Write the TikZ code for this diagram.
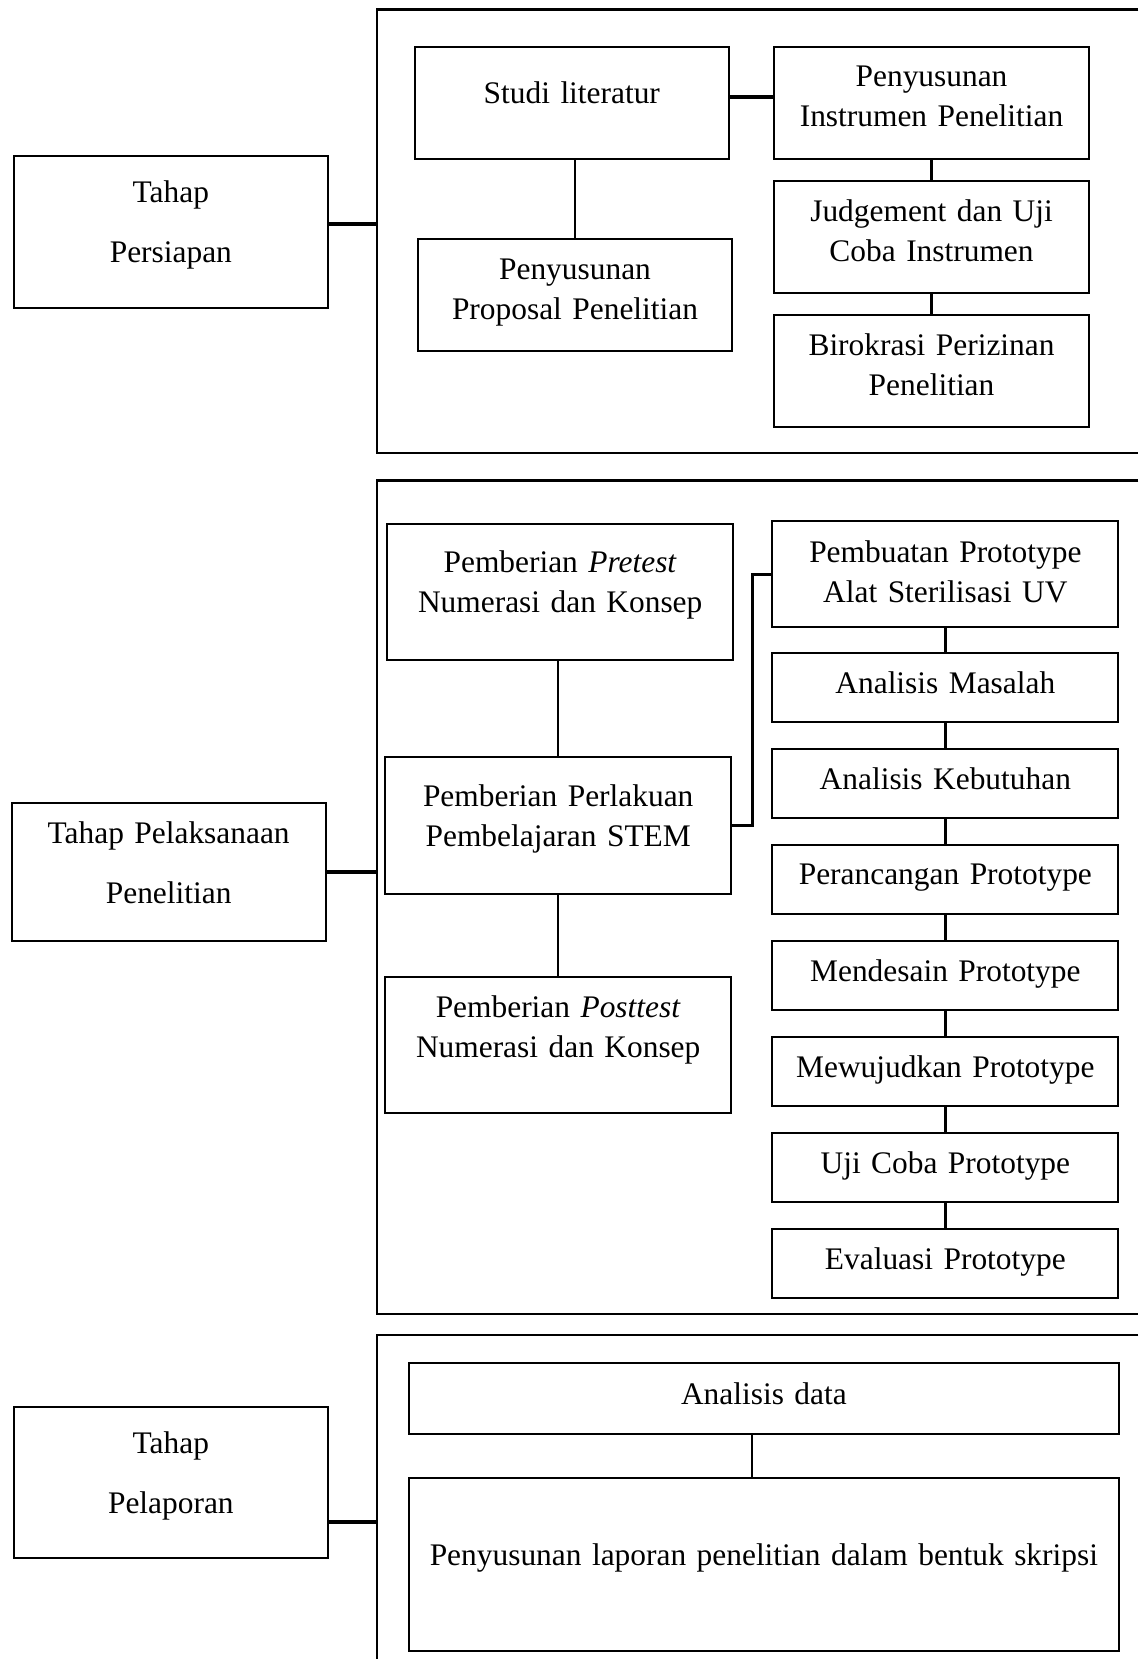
\documentclass[tikz,border=0pt]{standalone}
\usepackage{fontspec}
\setmainfont{Liberation Serif}
\usepackage{tikz}
\usetikzlibrary{positioning}
\tikzset{
  box/.style={
    draw, line width=1pt, inner xsep=0pt, inner ysep=0pt, outer sep=0pt, align=center,
    font=\fontsize{15.7}{20}\selectfont,
    execute at end node={\rule[-#1]{0pt}{0pt}}
  },
  box/.default=10pt,
  phasebox/.style={box, text width=157pt, minimum height=#1},
  prepbox/.style={box=6.3pt, text width=157pt, minimum height=56pt},
  runbox/.style={box=#1, text width=173pt},
  runbox/.default=10pt,
  stepbox/.style={runbox=5pt, minimum height=34.4pt},
  reportbox/.style={box=#1, text width=355pt},
  reportbox/.default=10pt,
  panel/.style={line width=1.2pt},
  link/.style={line width=1.2pt},
  joint/.style={line width=2pt}
}
\begin{document}
\begin{tikzpicture}[x=1pt, y=-1pt]
  \useasboundingbox (0,0) rectangle (569,829.2);

  % Tahap Persiapan
  \coordinate (f1) at (188.3,4.8);
  \draw[panel] (569,4.8) -- (f1) -- (188.3,226.3) -- (569,226.3);
  \node[phasebox=76pt] (persiapan) at (85.4,115.8) {Tahap\\[10pt]Persiapan};
  \node[prepbox, box=10pt] (studi) at (285.8,51.3) {Studi literatur};
  \node[prepbox, right=22.8pt of studi] (instrumen) {Penyusunan\\Instrumen Penelitian};
  \node[prepbox, below=11.1pt of instrumen] (judgement) {Judgement dan Uji\\Coba Instrumen};
  \node[prepbox, below=11.1pt of judgement] (birokrasi) {Birokrasi Perizinan\\Penelitian};
  \node[prepbox, below=40.2pt of studi, xshift=1.6pt] (proposal) {Penyusunan\\Proposal Penelitian};

  \draw[joint] ([yshift=3.7pt]persiapan.east) -- ([yshift=3.7pt]persiapan.east -| f1);
  \draw[joint] ([yshift=3pt]studi.east) -- ([yshift=3pt]studi.east -| instrumen.west);
  \draw[link] (proposal.north |- studi.south) -- (proposal.north);
  \draw[link] (instrumen) -- (judgement);
  \draw[link] (judgement) -- (birokrasi);

  % Tahap Pelaksanaan Penelitian
  \coordinate (f2) at (188.3,240.1);
  \draw[panel] (569,240.1) -- (f2) -- (188.3,656.8) -- (569,656.8);
  \node[phasebox=69pt] (pelaksanaan) at (84.3,436.0) {Tahap Pelaksanaan\\[10pt]Penelitian};
  \node[runbox, minimum height=68pt] (pretest) at (280.0,295.9) {Pemberian \textit{Pretest}\\Numerasi dan Konsep};
  \node[runbox, minimum height=68pt, below=48.7pt of pretest, xshift=-1pt] (perlakuan) {Pemberian Perlakuan\\Pembelajaran STEM};
  \node[runbox=18.4pt, minimum height=68pt, below=41.8pt of perlakuan] (posttest) {Pemberian \textit{Posttest}\\Numerasi dan Konsep};
  \node[runbox=2.6pt, minimum height=53pt] (pembuatan) at (472.5,287.1) {Pembuatan Prototype\\Alat Sterilisasi UV};
  \node[stepbox, below=12.7pt of pembuatan] (masalah) {Analisis Masalah};
  \node[stepbox, below=13.6pt of masalah] (kebutuhan) {Analisis Kebutuhan};
  \node[stepbox, below=13.6pt of kebutuhan] (perancangan) {Perancangan Prototype};
  \node[stepbox, below=13.6pt of perancangan] (mendesain) {Mendesain Prototype};
  \node[stepbox, below=13.6pt of mendesain] (mewujudkan) {Mewujudkan Prototype};
  \node[stepbox, below=13.6pt of mewujudkan] (ujicoba) {Uji Coba Prototype};
  \node[stepbox, below=13.6pt of ujicoba] (evaluasi) {Evaluasi Prototype};

  \draw[joint] (pelaksanaan.east) -- (pelaksanaan.east -| f2);
  \draw[link] (perlakuan.north |- pretest.south) -- (perlakuan.north);
  \draw[link] (perlakuan) -- (posttest);
  \draw[link] (perlakuan.east) -- ++(10.6,0) |- (pembuatan.west);
  \draw[link] (pembuatan) -- (masalah);
  \draw[link] (masalah) -- (kebutuhan);
  \draw[link] (kebutuhan) -- (perancangan);
  \draw[link] (perancangan) -- (mendesain);
  \draw[link] (mendesain) -- (mewujudkan);
  \draw[link] (mewujudkan) -- (ujicoba);
  \draw[link] (ujicoba) -- (evaluasi);

  % Tahap Pelaporan
  \coordinate (f3) at (188.3,667.3);
  \draw[panel] (569,667.3) -- (f3) -- (188.3,829.2);
  \node[phasebox=75.6pt] (pelaporan) at (85.4,741.1) {Tahap\\[10pt]Pelaporan};
  \node[reportbox=5pt, minimum height=35.4pt] (data) at (381.8,698.8) {Analisis data};
  \node[reportbox, minimum height=86.7pt, below=22.2pt of data] (laporan) {Penyusunan laporan penelitian dalam bentuk skripsi};

  \draw[joint] ([yshift=-19.8pt]pelaporan.east) -- ([yshift=-19.8pt]pelaporan.east -| f3);
  \draw[link] ([xshift=-5.8pt]data.south) -- ([xshift=-5.8pt]data.south |- laporan.north);
\end{tikzpicture}
\end{document}
